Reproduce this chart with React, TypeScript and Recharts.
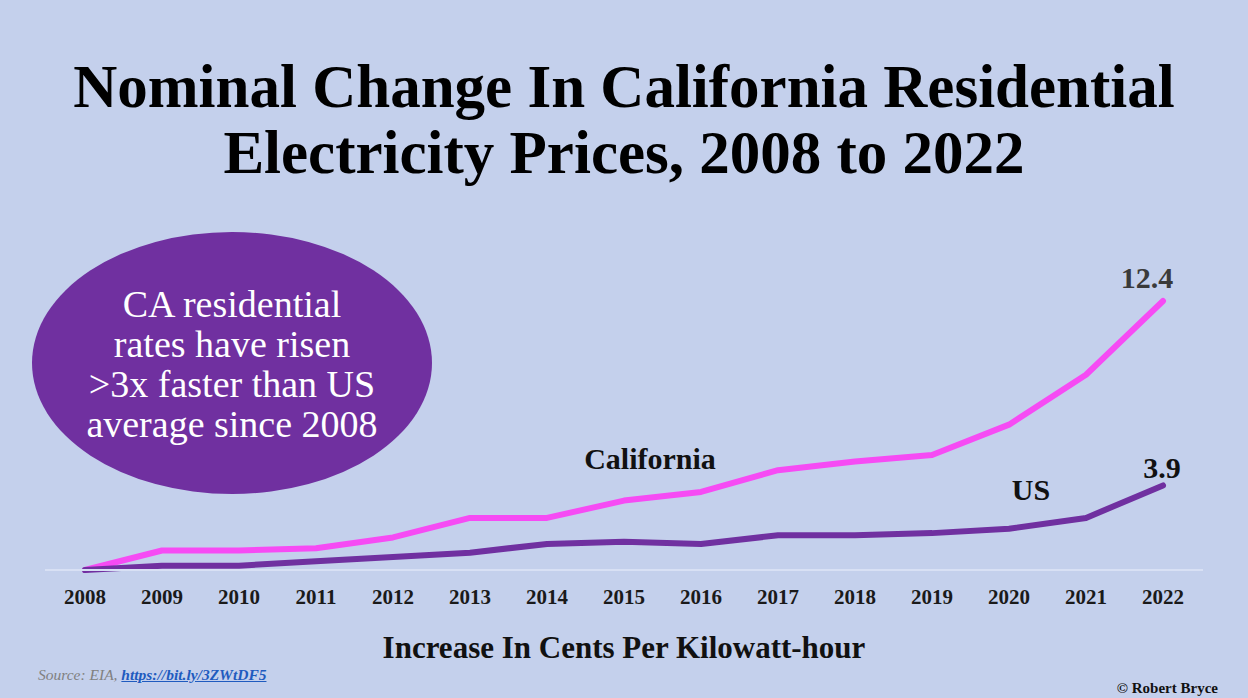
import { LineChart, Line, XAxis, YAxis, LabelList } from 'recharts';

const years = ['2008', '2009', '2010', '2011', '2012', '2013', '2014', '2015', '2016', '2017', '2018', '2019', '2020', '2021', '2022'];
// increase in cents per kWh since 2008
const california = [0, 0.9, 0.9, 1.0, 1.5, 2.4, 2.4, 3.2, 3.6, 4.6, 5.0, 5.3, 6.7, 9.0, 12.4];
const us = [0, 0.2, 0.2, 0.4, 0.6, 0.8, 1.2, 1.3, 1.2, 1.6, 1.6, 1.7, 1.9, 2.4, 3.9];

const titleLines = ['Nominal Change In California Residential', 'Electricity Prices, 2008 to 2022'];
const calloutLines = ['CA residential', 'rates have risen', '>3x faster than US', 'average since 2008'];

const data = years.map((year, i) => ({ year, california: california[i], us: us[i] }));

const SERIF = '"Liberation Serif", "Times New Roman", serif';
const BG = '#c4d0ec';
const PINK = '#f64bf4';
const PURPLE = '#7030a0';

function caLabel(props: any) {
  const { x, y, index, value } = props;
  if (index === years.length - 1) {
    return (
      <text x={x - 16} y={y - 13} textAnchor="middle" fontFamily={SERIF} fontWeight="bold" fontSize={30} fill="#3a3a3a">
        {value}
      </text>
    );
  }
  if (index === 7) {
    return (
      <text x={x + 26} y={y - 32} textAnchor="middle" fontFamily={SERIF} fontWeight="bold" fontSize={30} fill="#111">
        California
      </text>
    );
  }
  return null;
}

function usLabel(props: any) {
  const { x, y, index, value } = props;
  if (index === years.length - 1) {
    return (
      <text x={x - 1} y={y - 7} textAnchor="middle" fontFamily={SERIF} fontWeight="bold" fontSize={30} fill="#111">
        {value}
      </text>
    );
  }
  if (index === 12) {
    return (
      <text x={x + 22} y={y - 29} textAnchor="middle" fontFamily={SERIF} fontWeight="bold" fontSize={30} fill="#111">
        US
      </text>
    );
  }
  return null;
}

export default function App() {
  return (
    <div style={{ position: 'fixed', left: 0, top: 0, width: 1248, height: 698, background: BG, overflow: 'hidden', fontFamily: SERIF }}>
      {/* title */}
      <div style={{ position: 'absolute', left: 0, top: 54, width: 1248, textAlign: 'center', fontSize: 61, lineHeight: '66px', fontWeight: 'bold', color: '#000' }}>
        {titleLines.map((t) => (
          <div key={t}>{t}</div>
        ))}
      </div>

      {/* callout bubble */}
      <div style={{ position: 'absolute', left: 32, top: 232, width: 400, height: 262, borderRadius: '50%', background: PURPLE }} />
      <div style={{ position: 'absolute', left: 32, top: 284, width: 400, textAlign: 'center', color: '#fff', fontSize: 38, lineHeight: '40px' }}>
        {calloutLines.map((t) => (
          <div key={t}>{t}</div>
        ))}
      </div>

      <div style={{ position: 'absolute', left: 0, top: 0 }}>
        <LineChart width={1248} height={698} data={data} margin={{ top: 288, right: 45, bottom: 88, left: 45 }}>
          <XAxis
            dataKey="year"
            padding={{ left: 40, right: 40 }}
            axisLine={{ stroke: '#d8e0f4', strokeWidth: 2 }}
            tickLine={false}
            tickSize={6}
            tickMargin={13}
            height={40}
            interval={0}
            tick={{ fill: '#1a1a1a', fontSize: 21, fontWeight: 'bold', fontFamily: SERIF }}
          />
          <YAxis hide type="number" domain={[0, 13]} />
          <Line
            type="linear"
            dataKey="california"
            stroke={PINK}
            strokeWidth={6}
            strokeLinecap="round"
            strokeLinejoin="round"
            dot={false}
            isAnimationActive={false}
          >
            <LabelList dataKey="california" content={caLabel} />
          </Line>
          <Line
            type="linear"
            dataKey="us"
            stroke={PURPLE}
            strokeWidth={6}
            strokeLinecap="round"
            strokeLinejoin="round"
            dot={false}
            isAnimationActive={false}
          >
            <LabelList dataKey="us" content={usLabel} />
          </Line>
        </LineChart>
      </div>

      {/* axis title */}
      <div style={{ position: 'absolute', left: 0, top: 630, width: 1248, textAlign: 'center', fontSize: 31, fontWeight: 'bold', color: '#111', lineHeight: '36px' }}>
        Increase In Cents Per Kilowatt-hour
      </div>

      <div style={{ position: 'absolute', left: 38, top: 666, fontSize: 15.5, fontStyle: 'italic', color: '#808080', whiteSpace: 'nowrap' }}>
        Source: EIA,{' '}
        <span style={{ color: '#1f5bbf', textDecoration: 'underline', fontWeight: 'bold' }}>https://bit.ly/3ZWtDF5</span>
      </div>

      <div style={{ position: 'absolute', right: 30, top: 680, fontSize: 15, fontWeight: 'bold', color: '#111', whiteSpace: 'nowrap' }}>
        © Robert Bryce
      </div>
    </div>
  );
}
